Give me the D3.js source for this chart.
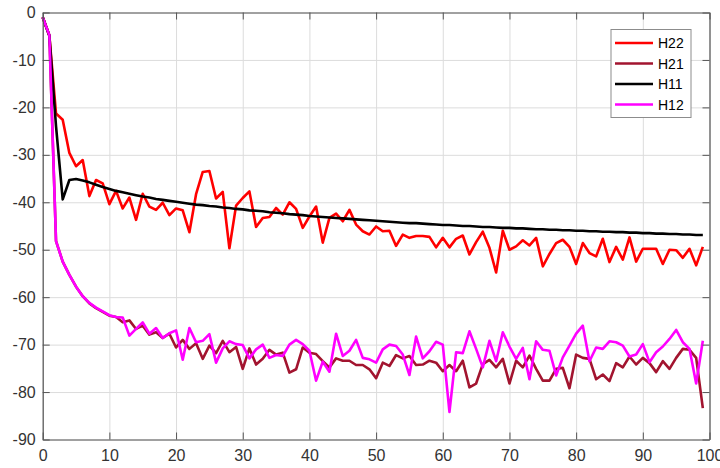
<!DOCTYPE html>
<html>
<head>
<meta charset="utf-8">
<script src="https://cdn.jsdelivr.net/npm/d3@7"></script>
<style>
  html, body { margin: 0; padding: 0; background: #ffffff; }
  svg { display: block; }
</style>
</head>
<body>
<svg id="chart" width="720" height="468"></svg>
<script>
// ---------- data ----------
const xValues = [
  0,1,2,3,4,5,6,7,8,9,10,11,12,13,14,15,16,17,18,19,
  20,21,22,23,24,25,26,27,28,29,30,31,32,33,34,35,36,37,38,39,
  40,41,42,43,44,45,46,47,48,49,50,51,52,53,54,55,56,57,58,59,
  60,61,62,63,64,65,66,67,68,69,70,71,72,73,74,75,76,77,78,79,
  80,81,82,83,84,85,86,87,88,89,90,91,92,93,94,95,96,97,98,99
];

const seriesNames = ["H22", "H21", "H11", "H12"];

const H22 = [
  -1.0,-4.9,-21.3,-22.6,-29.6,-32.4,-31.1,-38.7,-35.3,-36.0,
  -40.4,-37.6,-41.3,-39.0,-43.7,-38.2,-40.9,-41.6,-40.1,-42.7,
  -41.3,-41.7,-46.3,-38.3,-33.6,-33.4,-39.2,-37.8,-49.7,-40.7,
  -39.1,-37.7,-45.2,-43.3,-43.1,-41.2,-42.6,-40.0,-41.4,-45.4,
  -43.0,-40.9,-48.5,-43.3,-42.4,-44.0,-41.6,-44.7,-46.1,-46.8,
  -45.1,-46.1,-46.0,-49.2,-46.8,-47.5,-47.1,-47.1,-47.3,-49.5,
  -47.5,-49.5,-47.7,-47.0,-51.0,-48.4,-46.2,-49.6,-54.8,-46.0,
  -50.0,-49.3,-48.0,-49.1,-47.5,-53.5,-50.9,-48.6,-47.9,-49.4,
  -53.0,-48.6,-50.7,-51.4,-47.7,-52.6,-49.4,-52.1,-47.4,-52.5,
  -49.8,-49.8,-49.8,-53.0,-50.0,-50.1,-51.7,-49.8,-53.3,-49.4
];

const H21 = [
  -1.0,-4.8,-48.2,-52.5,-55.3,-57.8,-59.8,-61.3,-62.3,-63.1,
  -63.9,-64.2,-65.3,-64.9,-66.7,-66.0,-67.9,-67.4,-68.6,-67.7,
  -70.6,-69.0,-70.9,-69.7,-73.0,-70.2,-71.8,-69.2,-71.6,-70.5,
  -75.1,-70.8,-74.2,-73.0,-71.1,-72.1,-71.7,-75.9,-75.2,-70.6,
  -71.7,-72.0,-73.5,-74.8,-72.9,-73.4,-73.4,-74.3,-74.3,-75.2,
  -77.1,-73.8,-74.5,-72.2,-72.9,-72.4,-74.3,-74.2,-73.4,-73.8,
  -75.6,-74.3,-75.6,-73.4,-79.0,-78.2,-74.1,-73.2,-74.8,-73.0,
  -78.2,-73.4,-74.8,-72.3,-75.1,-77.6,-77.6,-75.1,-74.9,-79.2,
  -72.1,-72.8,-73.0,-77.3,-76.3,-77.7,-73.9,-74.8,-72.5,-74.2,
  -72.8,-73.9,-75.8,-73.5,-75.1,-72.8,-70.9,-71.1,-72.8,-83.4
];

const H11 = [
  -1.0,-4.9,-24.0,-39.4,-35.3,-35.1,-35.4,-35.8,-36.3,-36.8,
  -37.2,-37.6,-37.9,-38.2,-38.5,-38.8,-39.0,-39.3,-39.5,-39.7,
  -39.9,-40.1,-40.3,-40.5,-40.6,-40.8,-40.9,-41.1,-41.2,-41.4,
  -41.5,-41.7,-41.8,-41.9,-42.1,-42.2,-42.3,-42.5,-42.6,-42.7,
  -42.9,-43.0,-43.1,-43.2,-43.3,-43.4,-43.5,-43.6,-43.7,-43.8,
  -43.9,-44.0,-44.1,-44.2,-44.3,-44.4,-44.4,-44.5,-44.6,-44.7,
  -44.8,-44.8,-44.9,-45.0,-45.0,-45.1,-45.2,-45.2,-45.3,-45.4,
  -45.4,-45.5,-45.5,-45.6,-45.7,-45.7,-45.8,-45.8,-45.9,-45.9,
  -46.0,-46.0,-46.1,-46.1,-46.2,-46.2,-46.3,-46.3,-46.4,-46.4,
  -46.5,-46.5,-46.6,-46.6,-46.7,-46.7,-46.8,-46.8,-46.9,-46.9
];

const H12 = [
  -1.0,-4.8,-48.2,-52.5,-55.3,-57.8,-59.8,-61.2,-62.2,-63.0,
  -63.8,-64.2,-64.3,-68.1,-66.7,-65.3,-67.7,-66.5,-68.6,-67.6,
  -67.0,-73.2,-66.5,-69.5,-69.2,-67.8,-73.8,-70.8,-69.3,-69.9,
  -70.1,-72.9,-71.0,-70.0,-72.8,-72.2,-72.4,-70.0,-69.0,-69.9,
  -71.3,-77.6,-73.6,-75.7,-67.7,-72.4,-71.3,-69.0,-72.8,-73.1,
  -73.8,-71.0,-70.0,-70.3,-72.1,-76.4,-68.3,-72.9,-71.4,-69.4,
  -70.0,-84.2,-71.6,-71.8,-67.2,-70.9,-74.8,-69.2,-73.5,-67.4,
  -70.4,-73.0,-70.7,-77.3,-69.3,-71.1,-71.3,-76.5,-72.7,-70.2,
  -67.7,-66.0,-73.5,-70.6,-70.9,-69.3,-69.5,-70.2,-72.5,-72.1,
  -69.9,-73.7,-71.6,-70.4,-68.8,-66.9,-69.5,-70.9,-78.2,-69.2
];

const xTicks = [0,10,20,30,40,50,60,70,80,90,100];
const yTicks = [-90,-80,-70,-60,-50,-40,-30,-20,-10,0];

// ---------- layout ----------
const W = 720, H = 468;
const L = 42.7, R = 709.5, T = 12.5, B = 439.5;
const colors = { H22: "#ff0000", H21: "#a2142f", H11: "#000000", H12: "#ff00ff" };
const seriesData = { H22, H21, H11, H12 };

const svg = d3.select("#chart");
svg.append("rect").attr("width", W).attr("height", H).attr("fill", "#ffffff");

const x = d3.scaleLinear().domain([0, 100]).range([L, R]);
const y = d3.scaleLinear().domain([-90, 0]).range([B, T]);

const font = "'Liberation Sans', Arial, Helvetica, sans-serif";

// grid
const grid = svg.append("g");
grid.append("g")
  .attr("transform", `translate(0,${B})`)
  .call(d3.axisBottom(x).tickValues(xTicks).tickSize(-(B - T)).tickFormat(""))
  .call(g => g.select(".domain").remove())
  .call(g => g.selectAll("line").attr("stroke", "#dcdcdc").attr("stroke-width", 1));
grid.append("g")
  .attr("transform", `translate(${L},0)`)
  .call(d3.axisLeft(y).tickValues(yTicks).tickSize(-(R - L)).tickFormat(""))
  .call(g => g.select(".domain").remove())
  .call(g => g.selectAll("line").attr("stroke", "#dcdcdc").attr("stroke-width", 1));

// lines
const line = d3.line()
  .x((d, i) => x(xValues[i]))
  .y(d => y(d));

const plot = svg.append("g");
seriesNames.forEach(name => {
  plot.append("path")
    .datum(seriesData[name])
    .attr("fill", "none")
    .attr("stroke", colors[name])
    .attr("stroke-width", 2.6)
    .attr("stroke-linejoin", "round")
    .attr("d", line);
});

// axes (box with inward ticks)
const axisColor = "#555555";
function styleAxis(g) {
  g.select(".domain").attr("stroke", axisColor).attr("stroke-width", 1.2);
  g.selectAll(".tick line").attr("stroke", axisColor).attr("stroke-width", 1);
  g.selectAll(".tick text").attr("fill", "#333333")
    .style("font-family", font).style("font-size", "16px");
}
svg.append("g")
  .attr("transform", `translate(0,${B})`)
  .call(d3.axisBottom(x).tickValues(xTicks).tickSize(-7).tickSizeOuter(0).tickPadding(10).tickFormat(d3.format("d")))
  .call(styleAxis);
svg.append("g")
  .attr("transform", `translate(${L},0)`)
  .call(d3.axisLeft(y).tickValues(yTicks).tickSize(-7).tickSizeOuter(0).tickPadding(7).tickFormat(d => d3.format("d")(d).replace("−", "-")))
  .call(styleAxis);
svg.append("g")
  .attr("transform", `translate(0,${T})`)
  .call(d3.axisTop(x).tickValues(xTicks).tickSize(-7).tickSizeOuter(0).tickFormat(""))
  .call(styleAxis);
svg.append("g")
  .attr("transform", `translate(${R},0)`)
  .call(d3.axisRight(y).tickValues(yTicks).tickSize(-7).tickSizeOuter(0).tickFormat(""))
  .call(styleAxis);

// legend
const leg = svg.append("g").attr("transform", "translate(611,29.5)");
leg.append("rect")
  .attr("width", 80).attr("height", 88)
  .attr("fill", "#ffffff").attr("stroke", "#8c8c8c").attr("stroke-width", 1);
seriesNames.forEach((name, i) => {
  const yy = 13.5 + i * 20.5;
  leg.append("line")
    .attr("x1", 4).attr("x2", 42).attr("y1", yy).attr("y2", yy)
    .attr("stroke", colors[name]).attr("stroke-width", 2.6);
  leg.append("text")
    .attr("x", 47).attr("y", yy + 5)
    .attr("fill", "#000000")
    .style("font-family", font).style("font-size", "14px")
    .text(name);
});
</script>
</body>
</html>
